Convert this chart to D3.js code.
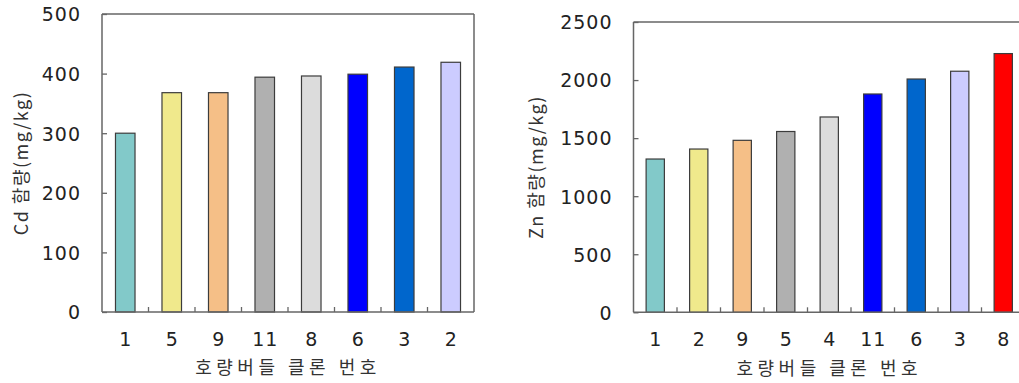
<!DOCTYPE html>
<html>
<head>
<meta charset="utf-8">
<script src="https://cdn.jsdelivr.net/npm/d3@7"></script>
<style>
  html, body { margin: 0; padding: 0; background: #fff; }
  svg { display: block; }
  .tick-num { font-family: "DejaVu Sans", sans-serif; font-size: 19px; fill: #222; letter-spacing: 1px; }
  .title-ko { font-family: "Noto Sans CJK KR", sans-serif; fill: #333; }
</style>
</head>
<body>
<svg id="chart" width="1019" height="383"></svg>
<script>
// Cd content by willow clone
const cdClones = ["1", "5", "9", "11", "8", "6", "3", "2"];
const cdValues = [300, 368, 368, 394, 396, 399, 411, 419];
const cdColors = ["#82c9c9", "#f0e98c", "#f5bf87", "#b0b0b0", "#dcdcdc", "#0000ff", "#0066cc", "#ccccff"];
const cdTicks = [0, 100, 200, 300, 400, 500];

// Zn content by willow clone
const znClones = ["1", "2", "9", "5", "4", "11", "6", "3", "8"];
const znValues = [1320, 1406, 1481, 1557, 1682, 1880, 2009, 2076, 2228];
const znColors = ["#82c9c9", "#f0e98c", "#f5bf87", "#b0b0b0", "#dcdcdc", "#0000ff", "#0066cc", "#ccccff", "#ff0000"];
const znTicks = [0, 500, 1000, 1500, 2000, 2500];

const xTitle = "호량버들 클론 번호";

const svg = d3.select("#chart");

function panel(opt) {
  const { left, right, top, bottom, clones, values, colors, ticks, yMax, yTitle, yTitleX, frameRight } = opt;
  const g = svg.append("g");

  const x = d3.scaleBand().domain(clones).range([left, right]).paddingInner(0).paddingOuter(0);
  const y = d3.scaleLinear().domain([0, yMax]).range([bottom, top]);
  const bw = x.bandwidth() * 0.42;

  // bars
  g.selectAll("rect.bar")
    .data(clones.map((c, i) => ({ c, v: values[i], col: colors[i] })))
    .join("rect")
    .attr("class", "bar")
    .attr("x", d => x(d.c) + (x.bandwidth() - bw) / 2)
    .attr("y", d => y(d.v))
    .attr("width", bw)
    .attr("height", d => bottom - y(d.v))
    .attr("fill", d => d.col)
    .attr("stroke", "#3c3c3c")
    .attr("stroke-width", 1.2);

  // frame
  const axisCol = "#666";
  g.append("line").attr("x1", left).attr("x2", left).attr("y1", top).attr("y2", bottom)
    .attr("stroke", axisCol).attr("stroke-width", 1.5);
  g.append("line").attr("x1", left).attr("x2", right).attr("y1", bottom).attr("y2", bottom)
    .attr("stroke", axisCol).attr("stroke-width", 1.5);
  g.append("line").attr("x1", left).attr("x2", right).attr("y1", top).attr("y2", top)
    .attr("stroke", axisCol).attr("stroke-width", 1.5);
  if (frameRight) {
    g.append("line").attr("x1", right).attr("x2", right).attr("y1", top).attr("y2", bottom)
      .attr("stroke", axisCol).attr("stroke-width", 1.5);
  }

  // y axis ticks (inside) and labels
  const yAxis = d3.axisLeft(y).tickValues(ticks).tickFormat(d3.format("d"))
    .tickSizeInner(-5).tickSizeOuter(0).tickPadding(21);
  const ya = g.append("g").attr("transform", `translate(${left},0)`).call(yAxis);
  ya.select(".domain").remove();
  ya.selectAll(".tick line").attr("stroke", axisCol).attr("stroke-width", 1.3);
  ya.selectAll(".tick text").attr("class", "tick-num").attr("font-family", null).attr("font-size", null)
    .attr("fill", null).attr("dy", "0.36em");

  // x axis: ticks between bands, pointing up
  const bounds = clones.slice(1).map(c => x(c));
  g.selectAll("line.xt").data(bounds).join("line").attr("class", "xt")
    .attr("x1", d => d).attr("x2", d => d).attr("y1", bottom).attr("y2", bottom - 5)
    .attr("stroke", axisCol).attr("stroke-width", 1.3);
  g.selectAll("text.xl").data(clones).join("text").attr("class", "xl tick-num")
    .attr("x", d => x(d) + x.bandwidth() / 2 + 0.5)
    .attr("y", bottom + 27)
    .attr("dy", "0.36em")
    .attr("text-anchor", "middle")
    .text(d => d);

  // titles
  g.append("text").attr("class", "title-ko")
    .attr("x", (left + right) / 2).attr("y", bottom + 56).attr("dy", "0.36em")
    .attr("text-anchor", "middle").attr("font-size", 18).attr("letter-spacing", "4.5px")
    .text(xTitle);
  g.append("text").attr("class", "title-ko")
    .attr("transform", `translate(${yTitleX},${(top + bottom) / 2}) rotate(-90)`)
    .attr("dy", "0.36em")
    .attr("text-anchor", "middle").attr("font-size", 18).attr("letter-spacing", "1.5px")
    .text(yTitle);
}

panel({ left: 102, right: 474, top: 14, bottom: 312, clones: cdClones, values: cdValues, colors: cdColors,
  ticks: cdTicks, yMax: 500, yTitle: "Cd 함량(mg/kg)", yTitleX: 22, frameRight: true });
panel({ left: 633.5, right: 1025, top: 22, bottom: 312.3, clones: znClones, values: znValues, colors: znColors,
  ticks: znTicks, yMax: 2500, yTitle: "Zn 함량(mg/kg)", yTitleX: 537, frameRight: true });
</script>
</body>
</html>
